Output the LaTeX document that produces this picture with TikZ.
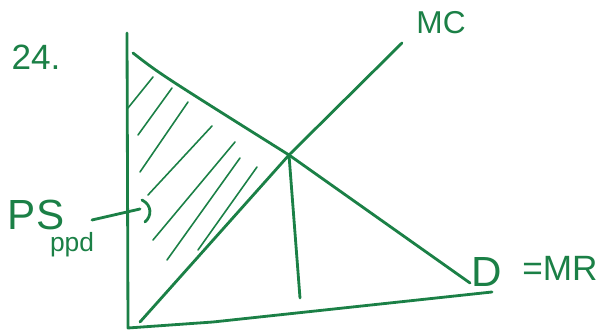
\documentclass[tikz,border=0pt]{standalone}
\usepackage{fontspec}
\setmainfont{Liberation Sans}
\usepackage{tikz}
\usetikzlibrary{calc}
\definecolor{PenGreen}{HTML}{1B8046}
\tikzset{
  pen/.style={draw=PenGreen, line width=1.6pt, line cap=round, line join=round},
  hatch/.style={draw=PenGreen, line width=0.9pt, line cap=round},
  tag/.style={text=PenGreen, inner sep=0pt, anchor=center}
}

\begin{document}
\begin{tikzpicture}[x=0.02cm, y=-0.02cm]
  \useasboundingbox (0,0) rectangle (609,333);
  % points of the graph
  \coordinate (origin) at (128,328);
  \coordinate (ytop) at (127,33);
  \coordinate (xend) at (492,292);
  \coordinate (dstart) at (133,53);
  \coordinate (dend) at (470,283);
  \coordinate (mcstart) at (140,322);
  \coordinate (mcend) at (402,43);
  \coordinate (eq) at (289,155);
  \coordinate (qfoot) at (300,298);
  % axes
  \draw[pen] (ytop) -- (origin) -- (213,322) -- (xend);
  % demand and marginal cost
  \draw[pen] (dstart) .. controls (160,74) .. (eq) -- (dend);
  \draw[pen] (mcstart) -- (eq) -- (mcend);
  \draw[pen] (eq) -- (qfoot);
  % shaded surplus
  \foreach \xa/\ya/\xb/\yb in {128/108/153/77, 138/135/172/88, 140/172/188/102,
                               148/195/212/126, 153/240/235/142, 167/260/240/158,
                               198/250/257/167}
    \draw[hatch] (\xa,\ya) -- (\xb,\yb);
  % labels
  \node[tag, font=\fontsize{20}{20}\selectfont] (num) at (36,57) {24.};
  \node[tag, font=\fontsize{18}{18}\selectfont] (mc) at (441,23) {MC};
  \node[tag, font=\fontsize{24}{24}\selectfont] (d) at (487,272) {D};
  \node[tag, font=\fontsize{20}{20}\selectfont] (mr) at (560,268) {=MR};
  \node[tag, font=\fontsize{24}{24}\selectfont] (ps) at (36,215) {PS};
  \node[tag, font=\fontsize{15}{15}\selectfont] (ppd) at (72,245) {ppd};
  % pointer into the shaded area
  \coordinate (tip) at (140,209);
  \draw[pen] (92,220) -- (tip);
  \draw[pen] (142,200) .. controls (152,205) and (152,216) .. (145,222);
\end{tikzpicture}
\end{document}
